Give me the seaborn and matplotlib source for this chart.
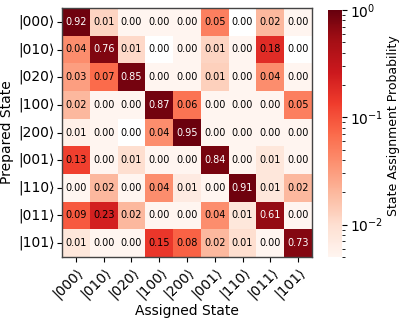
import matplotlib
matplotlib.use("Agg")
import matplotlib.pyplot as plt
import numpy as np
import pandas as pd
import seaborn as sns
from matplotlib.colors import LogNorm

STATES = ["000", "010", "020", "100", "200", "001", "110", "011", "101"]

# rows = prepared state, columns = assigned state (0 = never assigned)
ROW_000 = [0.92, 0.012, 0.003, 0.003, 0.003, 0.05, 0.0, 0.02, 0.003]
ROW_010 = [0.04, 0.76, 0.011, 0.0, 0.003, 0.012, 0.003, 0.18, 0.0]
ROW_020 = [0.03, 0.07, 0.85, 0.003, 0.003, 0.013, 0.003, 0.04, 0.003]
ROW_100 = [0.02, 0.003, 0.003, 0.87, 0.06, 0.003, 0.003, 0.003, 0.05]
ROW_200 = [0.006, 0.003, 0.0, 0.04, 0.95, 0.003, 0.003, 0.003, 0.003]
ROW_001 = [0.13, 0.003, 0.01, 0.003, 0.003, 0.84, 0.003, 0.008, 0.003]
ROW_110 = [0.004, 0.02, 0.003, 0.04, 0.007, 0.003, 0.91, 0.008, 0.02]
ROW_011 = [0.09, 0.23, 0.02, 0.003, 0.003, 0.04, 0.008, 0.61, 0.004]
ROW_101 = [0.008, 0.003, 0.003, 0.15, 0.08, 0.02, 0.01, 0.004, 0.73]

labels = [f"|{s}\u27e9" for s in STATES]
mat = pd.DataFrame([ROW_000, ROW_010, ROW_020, ROW_100, ROW_200,
                    ROW_001, ROW_110, ROW_011, ROW_101],
                   index=labels, columns=labels)

fig = plt.figure(figsize=(3.99, 3.19), dpi=100)
ax = fig.add_axes([62 / 399, 62 / 319, 250 / 399, 249 / 319])
cax = fig.add_axes([328 / 399, 62 / 319, 14 / 399, 247 / 319])

masked = mat.where(mat > 0)
sns.heatmap(masked, ax=ax, cbar_ax=cax, cmap="Reds",
            norm=LogNorm(vmin=0.005, vmax=1.0), annot=False,
            cbar_kws={"label": "State Assignment Probability"})

# annotate every cell, zeros included; white text only on the dark cells
for i in range(mat.shape[0]):
    for j in range(mat.shape[1]):
        v = mat.iat[i, j]
        ax.text(j + 0.5, i + 0.5, f"{v:.2f}", ha="center", va="center",
                fontsize=7, color="white" if v > 0.5 else "black")

for sp in ax.spines.values():
    sp.set_visible(True)
    sp.set_color("#444444")
    sp.set_linewidth(1.0)

ax.set_xlabel("Assigned State", fontsize=10)
ax.set_ylabel("Prepared State", fontsize=10)
ax.tick_params(axis="both", labelsize=10, length=3.5, pad=2)
plt.setp(ax.get_xticklabels(), rotation=45, ha="right", rotation_mode="anchor")
plt.setp(ax.get_yticklabels(), rotation=0)
ax.yaxis.set_label_coords(-0.19, 0.5)
ax.xaxis.set_label_coords(0.5, -0.19)

cbar = ax.collections[0].colorbar
cbar.outline.set_visible(True)
cbar.outline.set_edgecolor("#444444")
cbar.ax.tick_params(labelsize=10, pad=2)
cbar.ax.yaxis.label.set_size(9)
cbar.ax.yaxis.set_label_coords(4.25, 0.53)

fig.savefig("out.png", dpi=100)
